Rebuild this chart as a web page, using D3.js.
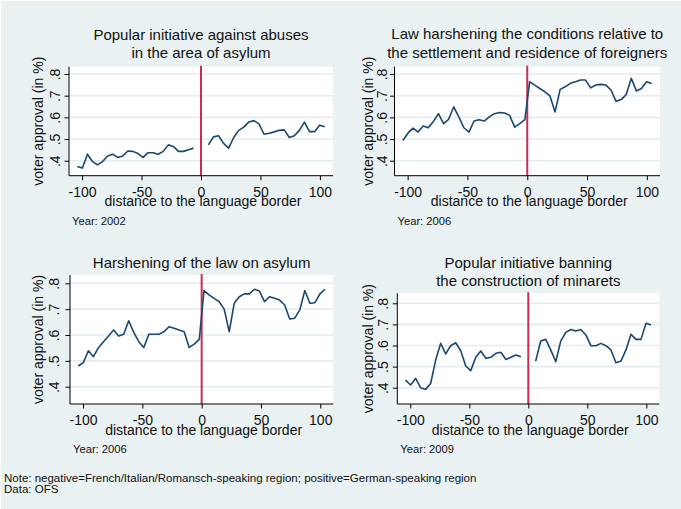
<!DOCTYPE html>
<html>
<head>
<meta charset="utf-8">
<script src="https://cdn.jsdelivr.net/npm/d3@7"></script>
<style>
  html, body { margin: 0; padding: 0; background: #ffffff; }
  svg { display: block; font-family: "Liberation Sans", Arial, Helvetica, sans-serif; }
</style>
</head>
<body>
<div id="chart"></div>
<script>
// distance to the language border (km), one bin per point
const distance = [
	-104, -99.75, -95.5, -91.25, -87, -82.75, -78.5, -74.25, -70, -65.75, -61.5, -57.25, -53,
	-48.75, -44.5, -40.25, -36, -31.75, -27.5, -23.25, -19, -14.75, -10.5, -6.25, -2,
	2, 6.25, 10.5, 14.75, 19, 23.25, 27.5, 31.75, 36, 40.25, 44.5, 48.75, 53,
	57.25, 61.5, 65.75, 70, 74.25, 78.5, 82.75, 87, 91.25, 95.5, 99.75, 104
];

// voter approval per bin, null = no value
const asylumAbuse2002 = [
	.373, .366, .43, .396, .381, .396, .422, .43, .415, .422, .445, .443, .433,
	.415, .437, .437, .43, .443, .473, .466, .443, .443, .451, .458, null,
	null, .473, .51, .515, .48, .458, .507, .54, .555, .579, .585, .57, .522,
	.527, .533, .54, .542, .507, .515, .54, .578, .534, .534, .564, .557
];
const foreigners2006 = [
	.493, .527, .55, .532, .56, .552, .581, .617, .571, .591, .648, .602, .552,
	.532, .583, .589, .583, .602, .617, .622, .62, .609, .555, .571, .589,
	.764, .749, .733, .718, .699, .625, .729, .741, .757, .764, .772, .772, .736,
	.749, .752, .749, .726, .674, .682, .705, .78, .722, .733, .764, .756
];
const asylumLaw2006 = [
	.48, .493, .539, .516, .551, .574, .596, .619, .596, .603, .655, .61, .574,
	.552, .603, .603, .603, .613, .632, .626, .619, .613, .552, .565, .583,
	.772, .755, .742, .729, .7, .613, .723, .748, .759, .759, .777, .77, .729,
	.748, .742, .735, .716, .662, .665, .697, .772, .723, .725, .759, .777
];
const minarets2009 = [
	.436, .413, .444, .4, .392, .42, .531, .61, .56, .599, .613, .575, .503,
	.481, .544, .574, .539, .544, .563, .568, .534, .544, .555, .547, null,
	null, .526, .621, .629, .579, .523, .621, .662, .676, .669, .676, .65, .599,
	.599, .61, .599, .579, .518, .526, .579, .653, .629, .629, .705, .697
];

const titles = [
	["Popular initiative against abuses", "in the area of asylum"],
	["Law harshening the conditions relative to", "the settlement and residence of foreigners"],
	["Harshening of the law on asylum"],
	["Popular initiative banning", "the construction of minarets"]
];
const years = ["Year: 2002", "Year: 2006", "Year: 2006", "Year: 2009"];
const series = [asylumAbuse2002, foreigners2006, asylumLaw2006, minarets2009];

const xTicks = [-100, -50, 0, 50, 100];
const xTickLabels = ["-100", "-50", "0", "50", "100"];
const yTicks = [0.4, 0.5, 0.6, 0.7, 0.8];
const yTickLabels = [".4", ".5", ".6", ".7", ".8"];

const notes = [
	"Note: negative=French/Italian/Romansch-speaking region; positive=German-speaking region",
	"Data: OFS"
];

// plot regions (Stata graph combine leaves them slightly uneven)
const layouts = [
	{left: 69, right: 333, top: 66.7, bottom: 175.7, y8: 74, y4: 160.7, titleY: [39.5, 57.5], labelOff: 14, yTitleOff: 31},
	{left: 394.5, right: 660, top: 66.7, bottom: 175.7, y8: 74, y4: 160.7, titleY: [39, 58], labelOff: 13, yTitleOff: 26.5},
	{left: 70, right: 333.3, top: 275, bottom: 404, y8: 283.3, y4: 386.7, titleY: [268], labelOff: 16, yTitleOff: 32},
	{left: 397.3, right: 659.3, top: 293.3, bottom: 404, y8: 303.3, y4: 387.7, titleY: [267.5, 286], labelOff: 14, yTitleOff: 29}
];

const width = 681, height = 509;
const bg = "#eaf1f3", grid = "#e3ecef", navy = "#1a476f", red = "#cd2a55";

const svg = d3.select("#chart").append("svg")
	.attr("width", width)
	.attr("height", height);

svg.append("rect")
	.attr("x", 1).attr("y", 1)
	.attr("width", width - 1).attr("height", height - 1)
	.attr("fill", bg);

series.forEach((values, i) => {
	const L = layouts[i];
	const g = svg.append("g");

	const x = d3.scaleLinear().domain([-111, 111]).range([L.left, L.right]);
	const y = d3.scaleLinear().domain([0.4, 0.8]).range([L.y4, L.y8]);

	// plot region
	g.append("rect")
		.attr("x", L.left).attr("y", L.top)
		.attr("width", L.right - L.left).attr("height", L.bottom - L.top)
		.attr("fill", "#ffffff");

	// gridlines
	g.append("g")
		.selectAll("line")
		.data(yTicks)
		.join("line")
		.attr("x1", L.left).attr("x2", L.right)
		.attr("y1", d => y(d)).attr("y2", d => y(d))
		.attr("stroke", grid)
		.attr("stroke-width", 1.6);

	// language border
	g.append("line")
		.attr("x1", x(0)).attr("x2", x(0))
		.attr("y1", L.top - 1).attr("y2", L.bottom)
		.attr("stroke", red)
		.attr("stroke-width", 2);

	// approval line
	const pts = distance.map((d, k) => ({d: d, v: values[k]}));
	g.append("path")
		.datum(pts)
		.attr("fill", "none")
		.attr("stroke", navy)
		.attr("stroke-width", 1.6)
		.attr("stroke-linejoin", "round")
		.attr("d", d3.line()
			.defined(p => p.v != null)
			.x(p => x(p.d))
			.y(p => y(p.v)));

	// x axis
	const xAxis = g.append("g")
		.attr("transform", `translate(0,${L.bottom})`)
		.call(d3.axisBottom(x).tickValues(xTicks).tickSize(4.5).tickPadding(6.5).tickSizeOuter(0)
			.tickFormat((d, k) => xTickLabels[k]));
	xAxis.select(".domain").attr("stroke", "#000").attr("d", `M${L.left},0H${L.right}`);
	xAxis.selectAll("text").style("font-size", "14px").attr("fill", "#111");

	// y axis with rotated labels
	const yAxis = g.append("g")
		.attr("transform", `translate(${L.left},0)`)
		.call(d3.axisLeft(y).tickValues(yTicks).tickSize(4.5).tickSizeOuter(0)
			.tickFormat((d, k) => yTickLabels[k]));
	yAxis.select(".domain").attr("stroke", "#000").attr("d", `M0,${L.top}V${L.bottom}`);
	yAxis.selectAll("text")
		.attr("x", 0)
		.attr("y", -(L.labelOff - 5))
		.attr("dy", null)
		.attr("text-anchor", "middle")
		.attr("transform", "rotate(-90)")
		.style("font-size", "14px")
		.attr("fill", "#111");

	// axis titles
	g.append("text")
		.attr("transform", `translate(${L.left - L.yTitleOff + 4.5},${(L.top + L.bottom) / 2}) rotate(-90)`)
		.attr("text-anchor", "middle")
		.style("font-size", "14px")
		.attr("fill", "#111")
		.text("voter approval (in %)");

	g.append("text")
		.attr("x", (L.left + L.right) / 2 + 2)
		.attr("y", L.bottom + 30.5)
		.attr("text-anchor", "middle")
		.style("font-size", "14px")
		.attr("fill", "#111")
		.text("distance to the language border");

	g.append("text")
		.attr("x", L.left + 3)
		.attr("y", L.bottom + 49)
		.style("font-size", "11.2px")
		.attr("fill", "#111")
		.text(years[i]);

	// panel title
	titles[i].forEach((t, k) => {
		g.append("text")
			.attr("x", (L.left + L.right) / 2)
			.attr("y", L.titleY[k])
			.attr("text-anchor", "middle")
			.style("font-size", "15px")
			.attr("fill", "#111")
			.text(t);
	});
});

notes.forEach((t, k) => {
	svg.append("text")
		.attr("x", 4)
		.attr("y", 481.5 + k * 11)
		.style("font-size", "11.5px")
		.attr("fill", "#111")
		.text(t);
});
</script>
</body>
</html>
